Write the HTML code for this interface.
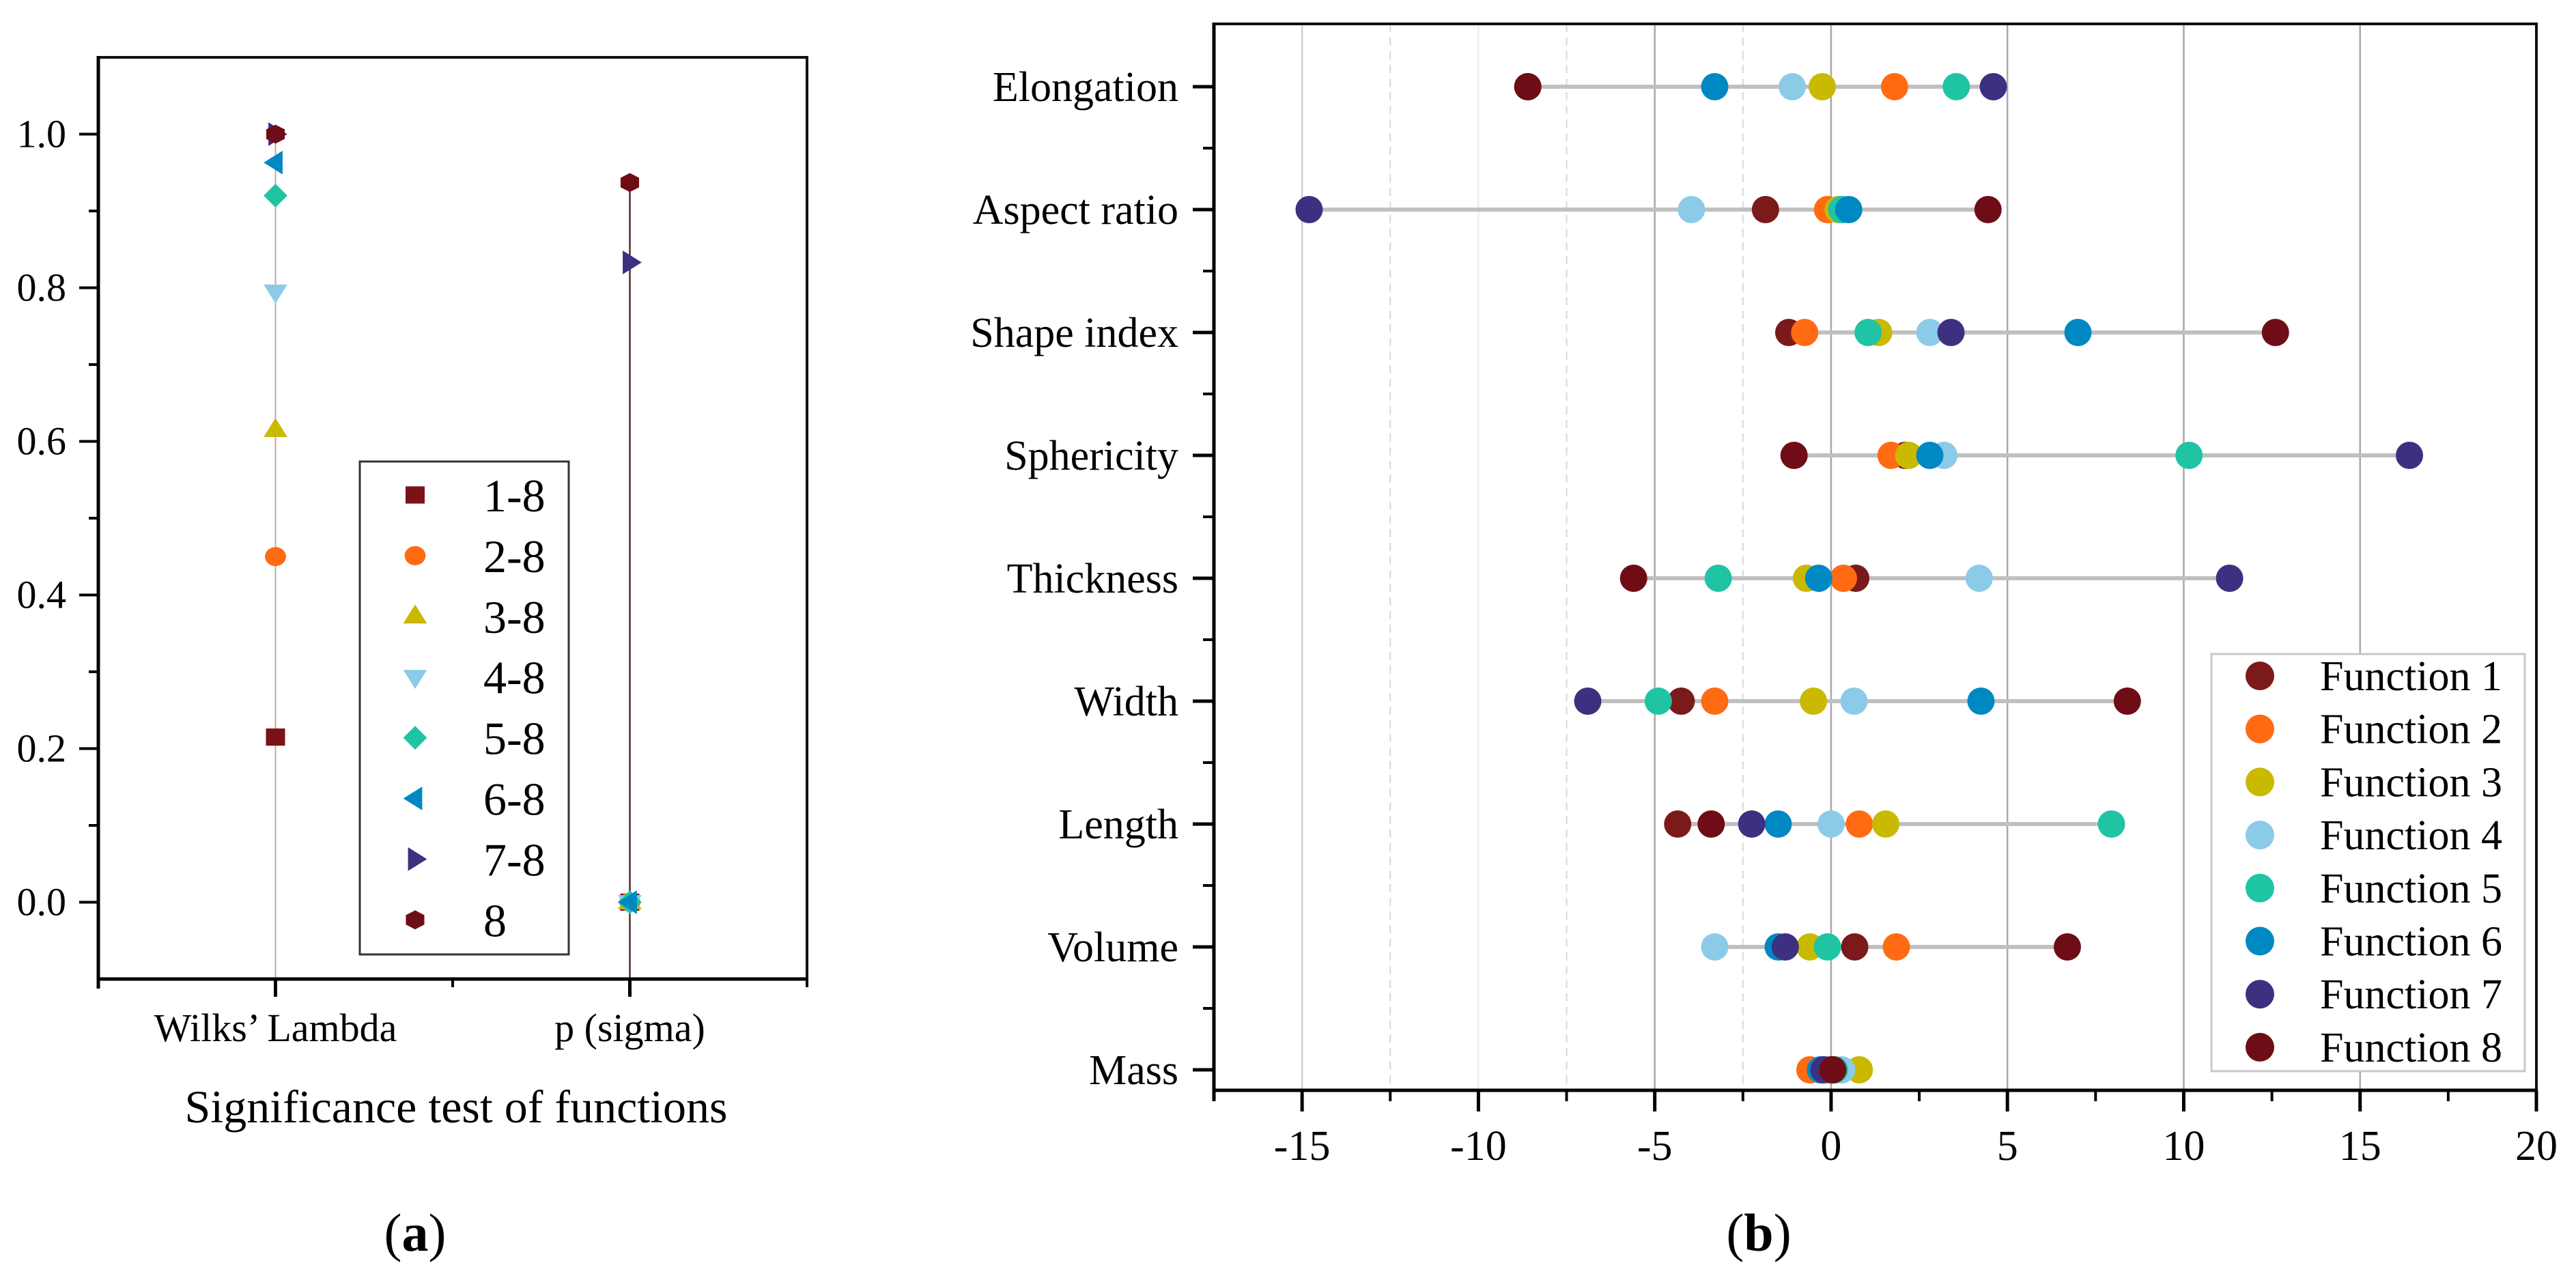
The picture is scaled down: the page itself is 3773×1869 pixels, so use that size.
<!DOCTYPE html>
<html><head><meta charset="utf-8"><style>
html,body{margin:0;padding:0;background:#fff;}
svg{display:block;font-family:"Liberation Serif",serif;}
</style></head><body>
<svg id="fig" width="3773" height="1869" viewBox="0 0 3773 1869" xmlns="http://www.w3.org/2000/svg">
<g id="pa"></g>
<g id="pb"></g>
<text x="608" y="1832" font-size="78" text-anchor="middle">(<tspan font-weight="bold">a</tspan>)</text>
<text x="2576" y="1832" font-size="78" text-anchor="middle">(<tspan font-weight="bold">b</tspan>)</text>
</svg>
<script>
// ---------- Panel A data ----------
const aCategories = ["Wilks\u2019 Lambda", "p (sigma)"];
const aSeries = ["1-8","2-8","3-8","4-8","5-8","6-8","7-8","8"];
const aWilks = [0.215, 0.45, 0.615, 0.795, 0.92, 0.963, 1.0, 1.0];
const aP = [0.0, 0.0, 0.0, 0.0, 0.0, 0.0, 0.833, 0.937];
const aYTicks = [0.0, 0.2, 0.4, 0.6, 0.8, 1.0];
const aYTickLabels = ["0.0","0.2","0.4","0.6","0.8","1.0"];
// ---------- Panel B data ----------
const bCategories = ["Elongation","Aspect ratio","Shape index","Sphericity","Thickness","Width","Length","Volume","Mass"];
const bSeriesNames = ["Function 1","Function 2","Function 3","Function 4","Function 5","Function 6","Function 7","Function 8"];
const bF1 = [-8.6, -1.86, -1.2, 2.1, 0.7, -4.25, -4.35, 0.67, 0.0];
const bF2 = [1.8, -0.1, -0.75, 1.7, 0.35, -3.3, 0.8, 1.85, -0.6];
const bF3 = [-0.25, 0.2, 1.35, 2.2, -0.7, -0.5, 1.55, -0.6, 0.8];
const bF4 = [-1.1, -3.96, 2.8, 3.2, 4.2, 0.65, 0.0, -3.3, 0.3];
const bF5 = [3.55, 0.3, 1.05, 10.15, -3.2, -4.9, 7.95, -0.1, 0.1];
const bF6 = [-3.3, 0.5, 7.0, 2.8, -0.35, 4.25, -1.5, -1.5, -0.3];
const bF7 = [4.6, -14.8, 3.4, 16.4, 11.3, -6.9, -2.25, -1.3, -0.2];
const bF8 = [-8.6, 4.45, 12.6, -1.05, -5.6, 8.4, -3.4, 6.7, 0.05];
const bXTicks = [-15, -10, -5, 0, 5, 10, 15, 20];
const bXTickLabels = ["-15","-10","-5","0","5","10","15","20"];

const NS = "http://www.w3.org/2000/svg";
function mk(parent, tag, attrs, text){
  const e = document.createElementNS(NS, tag);
  for (const k in attrs) e.setAttribute(k, attrs[k]);
  if (text !== undefined) e.textContent = text;
  parent.appendChild(e);
  return e;
}

// ================= Panel A =================
const pa = document.getElementById('pa');
const aL = 144, aR = 1182, aT = 84, aB = 1434, aMin = -0.1, aMax = 1.1;
function ay(v){ return aB - (v - aMin) / (aMax - aMin) * (aB - aT); }
function ax(i){ return aL + (aR - aL) * (0.25 + 0.5 * i); }
const aColors = ["#7a1218","#ff6a13","#c9b900","#8ccbe8","#1fc4a4","#0088c2","#3e3080","#6e0d15"];
const aShapes = ["square","circle","tri-up","tri-down","diamond","tri-left","tri-right","hexagon"];

function marker(parent, shape, cx, cy, s, color){
  let e;
  if (shape === "square") e = mk(parent,'rect',{x:cx-s*0.5,y:cy-s*0.45,width:s,height:s*0.9,fill:color});
  else if (shape === "circle") e = mk(parent,'ellipse',{cx:cx,cy:cy,rx:s*0.55,ry:s*0.5,fill:color});
  else {
    let pts;
    const r = s*0.62;
    if (shape === "tri-up") pts = [[cx,cy-r],[cx+r,cy+r*0.6],[cx-r,cy+r*0.6]];
    else if (shape === "tri-down") pts = [[cx-r,cy-r*0.6],[cx+r,cy-r*0.6],[cx,cy+r]];
    else if (shape === "tri-left") pts = [[cx-r,cy],[cx+r*0.6,cy-r],[cx+r*0.6,cy+r]];
    else if (shape === "tri-right") pts = [[cx+r,cy],[cx-r*0.6,cy-r],[cx-r*0.6,cy+r]];
    else if (shape === "diamond") pts = [[cx,cy-r],[cx+r,cy],[cx,cy+r],[cx-r,cy]];
    else { pts = []; for (let k=0;k<6;k++){ const a=Math.PI/6+k*Math.PI/3; pts.push([cx+r*0.9*Math.cos(a), cy+r*0.8*Math.sin(a)]); } }
    e = mk(parent,'polygon',{points:pts.map(p=>p.join(',')).join(' '),fill:color});
  }
  return e;
}

const aStemTop = [Math.max(...aWilks), Math.max(...aP)];
const aStemColors = ["#c0a8a8","#5a2a2a"];
aCategories.forEach((c,i)=>{
  const ln = mk(pa,'line',{x1:ax(i),x2:ax(i),y1:aB,y2:ay(aStemTop[i]),stroke:aStemColors[i],'stroke-width':i===0?2:2.5});
  
  
});
[aWilks, aP].forEach((vals, ci)=>{
  vals.forEach((v, si)=>{
    const m = marker(pa, aShapes[si], ax(ci), ay(v), 28, aColors[si]);
    
    
  });
});
const aFrame = mk(pa,'g',{});


mk(aFrame,'line',{x1:aL,x2:aR+2,y1:aT,y2:aT,stroke:'#111','stroke-width':4});
mk(aFrame,'line',{x1:aR,x2:aR,y1:aT,y2:aB,stroke:'#111','stroke-width':4});
mk(aFrame,'line',{x1:aL,x2:aL,y1:aT-2,y2:aB+14,stroke:'#000','stroke-width':5});
mk(aFrame,'line',{x1:aL-2,x2:aR+2,y1:aB,y2:aB,stroke:'#000','stroke-width':5});
for (let k=0;k<=11;k++){
  const v = -0.1 + k*0.1;
  if (v < -0.05 || v > 1.05) continue;
  const major = (k % 2) === 1;
  mk(aFrame,'line',{x1:aL-(major?28:14),x2:aL,y1:ay(v),y2:ay(v),stroke:'#000','stroke-width':4});
}
aYTicks.forEach((v,i)=>{
  const t = mk(aFrame,'text',{x:97,y:ay(v)+19,'font-size':58,'text-anchor':'end'},aYTickLabels[i]);
  
  
});
[aL, (aL+aR)/2, aR].forEach(x=>mk(aFrame,'line',{x1:x,x2:x,y1:aB,y2:aB+12,stroke:'#000','stroke-width':4}));
aCategories.forEach((c,i)=>{
  mk(aFrame,'line',{x1:ax(i),x2:ax(i),y1:aB,y2:aB+26,stroke:'#000','stroke-width':5});
  const t = mk(aFrame,'text',{x:ax(i),y:1525,'font-size':58,'text-anchor':'middle'},c);
  
  
});
const aTitle = mk(pa,'text',{x:668,y:1644,'font-size':68,'text-anchor':'middle'},'Significance test of functions');


const aLeg = mk(pa,'g',{});


mk(aLeg,'rect',{x:527,y:676,width:306,height:722,fill:'#fff',stroke:'#333','stroke-width':3});
aSeries.forEach((s,i)=>{
  const y = 725 + i*88.9;
  const g = mk(aLeg,'g',{});
  
  
  marker(g, aShapes[i], 608, y, 28, aColors[i]);
  mk(g,'text',{x:708,y:y+24,'font-size':68},s);
});

// ================= Panel B =================
const pb = document.getElementById('pb');
const bL = 1778, bR = 3715, bT = 35, bB = 1597, bMin = -17.5, bMax = 20;
function bx(v){ return bL + (v - bMin)/(bMax - bMin)*(bR - bL); }
function by(i){ return 127 + i*180; }
const bColors = ["#7a1a1a","#ff6a13","#c9b900","#8ccbe8","#1fc4a4","#0088c2","#3e3080","#6e0d15"];
const bSeries = [bF1,bF2,bF3,bF4,bF5,bF6,bF7,bF8];
const grid = mk(pb,'g',{});


bXTicks.forEach(v=>{
  if (v >= 20) return;
  const col = v === -15 ? '#cfcfcf' : (v === -10 ? '#eeeeee' : '#a8a8a8');
  mk(grid,'line',{x1:bx(v),x2:bx(v),y1:bT,y2:bB,stroke:col,'stroke-width':2.5});
});
[-12.5,-7.5,-2.5].forEach(v=>mk(grid,'line',{x1:bx(v),x2:bx(v),y1:bT,y2:bB,stroke:'#d8d8d8','stroke-width':2,'stroke-dasharray':'12 8'}));
bCategories.forEach((c,i)=>{
  const vals = bSeries.map(s=>s[i]);
  const ln = mk(pb,'line',{x1:bx(Math.min(...vals)),x2:bx(Math.max(...vals)),y1:by(i),y2:by(i),stroke:'#c0c0c0','stroke-width':6});
  
  
});
bSeries.forEach((s,si)=>{
  s.forEach((v,i)=>{
    const d = mk(pb,'circle',{cx:bx(v),cy:by(i),r:20,fill:bColors[si]});
    
    
  });
});
const bAx = mk(pb,'g',{});


mk(bAx,'line',{x1:bL,x2:bR+2,y1:bT,y2:bT,stroke:'#111','stroke-width':4});
mk(bAx,'line',{x1:bR,x2:bR,y1:bT,y2:bB+14,stroke:'#111','stroke-width':4});
mk(bAx,'line',{x1:bL,x2:bL,y1:bT-2,y2:bB+16,stroke:'#000','stroke-width':5});
mk(bAx,'line',{x1:bL-2,x2:bR+2,y1:bB,y2:bB,stroke:'#000','stroke-width':5});
bCategories.forEach((c,i)=>{
  mk(bAx,'line',{x1:bL-31,x2:bL,y1:by(i),y2:by(i),stroke:'#000','stroke-width':5});
  if (i < bCategories.length-1) mk(bAx,'line',{x1:bL-16,x2:bL,y1:by(i)+90,y2:by(i)+90,stroke:'#000','stroke-width':4});
  const t = mk(bAx,'text',{x:1726,y:by(i)+21,'font-size':62,'text-anchor':'end'},c);
  
  
});
bXTicks.forEach((v,i)=>{
  mk(bAx,'line',{x1:bx(v),x2:bx(v),y1:bB,y2:bB+31,stroke:'#000','stroke-width':5});
  if (v < 20) mk(bAx,'line',{x1:bx(v+2.5),x2:bx(v+2.5),y1:bB,y2:bB+16,stroke:'#000','stroke-width':4});
  const t = mk(bAx,'text',{x:bx(v),y:1699,'font-size':62,'text-anchor':'middle'},bXTickLabels[i]);
  
  
});
mk(bAx,'line',{x1:bx(-17.5+0.01),x2:bx(-17.5+0.01),y1:bB,y2:bB+16,stroke:'#000','stroke-width':4});
const bLeg = mk(pb,'g',{});


mk(bLeg,'rect',{x:3239,y:958,width:459,height:611,fill:'#fff',stroke:'#c8c8c8','stroke-width':3});
bSeriesNames.forEach((n,i)=>{
  const y = 990 + i*77.7;
  const g = mk(bLeg,'g',{});
  
  
  mk(g,'circle',{cx:3310,cy:y,r:21,fill:bColors[i]});
  mk(g,'text',{x:3398,y:y+21,'font-size':62},n);
});
</script>
</body></html>
